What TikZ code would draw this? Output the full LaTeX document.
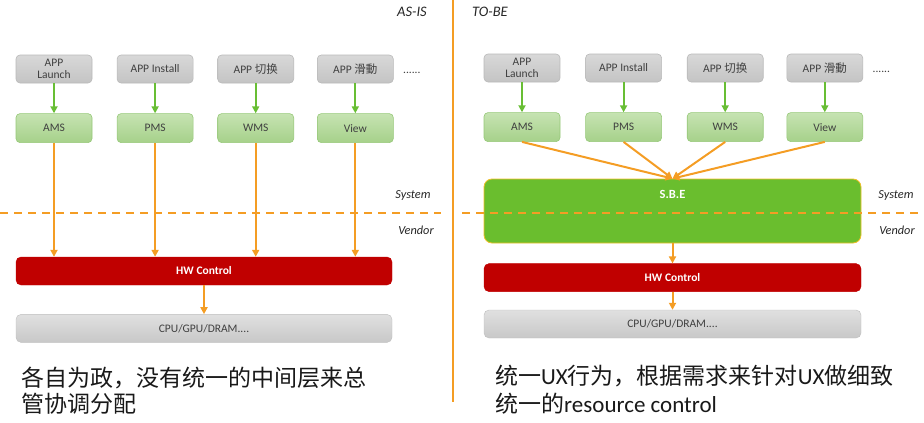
\documentclass[tikz,border=0pt]{standalone}
\usepackage{fontspec}
\setmainfont{Carlito}
\newfontfamily\cjk{Noto Sans CJK SC}
\usepackage{tikz}
\usetikzlibrary{arrows.meta}
\usetikzlibrary{positioning}

\definecolor{orangeline}{RGB}{244,157,36}
\definecolor{greenarrow}{RGB}{104,190,52}
\definecolor{hwred}{RGB}{192,0,0}
\definecolor{sbegreen}{RGB}{106,190,46}
\definecolor{sbeborder}{RGB}{240,190,40}
\definecolor{boxtext}{RGB}{64,64,64}

\begin{document}
\begin{tikzpicture}[x=1pt, y=-1pt,
  appbox/.style={draw={rgb,255:red,185;green,185;blue,185}, top color={rgb,255:red,216;green,216;blue,216}, bottom color={rgb,255:red,196;green,196;blue,196}, rounded corners=4pt, minimum width=76pt, minimum height=28pt, inner sep=1pt, align=center, text=boxtext, font=\fontsize{11.5}{12}\selectfont, line width=0.6pt},
  mgrbox/.style={appbox, draw={rgb,255:red,150;green,200;blue,120}, top color={rgb,255:red,198;green,227;blue,178}, bottom color={rgb,255:red,166;green,209;blue,138}, minimum height=29pt},
  hwbox/.style={draw=hwred, fill=hwred, rounded corners=5pt, minimum height=28pt, text=white, font=\fontsize{11.5}{12}\selectfont\bfseries},
  cpubox/.style={draw={rgb,255:red,190;green,190;blue,190}, top color={rgb,255:red,224;green,224;blue,224}, bottom color={rgb,255:red,200;green,200;blue,200}, rounded corners=5pt, minimum height=28pt, text=boxtext, font=\fontsize{11.5}{12}\selectfont},
  tag/.style={font=\fontsize{14.5}{15}\selectfont\itshape, text=black!85},
  layer/.style={font=\fontsize{12.3}{13}\selectfont\itshape, text=black!85},
  note/.style={anchor=base west, inner sep=0pt, font=\cjk\fontsize{23}{26}\selectfont, text=black!90},
  dots/.style={font=\fontsize{11.5}{12}\selectfont, text=boxtext},
  garrow/.style={-{Triangle[width=7pt,length=7pt]}, greenarrow, line width=2pt},
  oarrow/.style={-{Triangle[width=7pt,length=7pt]}, orangeline, line width=2pt},
  split/.style={orangeline, line width=2pt, dash pattern=on 8pt off 6pt}
]
\useasboundingbox (0,0) rectangle (924,423);

% Nodos AS-IS
\node [appbox] at (54,69) (n1) {APP\\Launch};
\node [appbox, right=24.5pt of n1] (n2) {APP Install};
\node [appbox, right=24pt of n2] (n3) {APP {\cjk 切换}};
\node [appbox, right=23pt of n3] (n4) {APP {\cjk 滑動}};
\node [dots, right=6pt of n4, yshift=-4pt] (n5) {......};

\node [mgrbox, below=30pt of n1] (n6) {AMS};
\node [mgrbox, below=30pt of n2] (n7) {PMS};
\node [mgrbox, below=30pt of n3] (n8) {WMS};
\node [mgrbox, below=30pt of n4] (n9) {View};

\node [hwbox, minimum width=376pt] at (204,271) (n10) {HW Control};
\node [cpubox, minimum width=376pt, below=29pt of n10] (n11) {CPU/GPU/DRAM....};

\node [tag] at (412,12) (n12) {AS-IS};
\node [layer] at (413,196) (n13) {System};
\node [layer] at (416,230) (n14) {Vendor};

\node [note] at (21,386) (n31) {各自为政，没有统一的中间层来总};
\node [note] at (21,412) (n32) {管协调分配};

% Nodos TO-BE
\node [appbox] at (522,68) (n15) {APP\\Launch};
\node [appbox, right=25pt of n15] (n16) {APP Install};
\node [appbox, right=25pt of n16] (n17) {APP {\cjk 切换}};
\node [appbox, right=23pt of n17] (n18) {APP {\cjk 滑動}};
\node [dots, right=6pt of n18, yshift=-4pt] (n19) {......};

\node [mgrbox, below=30pt of n15] (n20) {AMS};
\node [mgrbox, below=30pt of n16] (n21) {PMS};
\node [mgrbox, below=30pt of n17] (n22) {WMS};
\node [mgrbox, below=30pt of n18] (n23) {View};

\node [draw=sbeborder, fill=sbegreen, rounded corners=8pt, minimum width=377pt, minimum height=64pt, line width=0.8pt] at (672.5,211) (n24) {};
\node [text=white, font=\fontsize{12.5}{13}\selectfont\bfseries] at ([yshift=-16pt]n24.north) (n25) {S.B.E};
\node [hwbox, minimum width=377pt, below=20pt of n24] (n26) {HW Control};
\node [cpubox, minimum width=377pt, below=18pt of n26] (n27) {CPU/GPU/DRAM....};

\node [tag] at (490,12) (n28) {TO-BE};
\node [layer] at (896,196) (n29) {System};
\node [layer] at (897,230) (n30) {Vendor};

\node [note] at (495,384) (n33) {统一{\fontspec{Carlito}UX}行为，根据需求来针对{\fontspec{Carlito}UX}做细致};
\node [note] at (495,412) (n34) {统一的{\fontspec{Carlito}resource control}};

% Lineas
\coordinate (c1) at (453,0);
\coordinate (c2) at (453,402);
\coordinate (c3) at (0,213);
\coordinate (c4) at (441,213);
\coordinate (c5) at (462,213);
\coordinate (c6) at (924,213);

\draw[orangeline, line width=2.5pt] (c1) -- (c2);

% Conexiones AS-IS
\draw[garrow] (n1.south) -- (n6.north);
\draw[garrow] (n2.south) -- (n7.north);
\draw[garrow] (n3.south) -- (n8.north);
\draw[garrow] (n4.south) -- (n9.north);

\draw[oarrow] (n6.south) -- (n6.south |- n10.north);
\draw[oarrow] (n7.south) -- (n7.south |- n10.north);
\draw[oarrow] (n8.south) -- (n8.south |- n10.north);
\draw[oarrow] (n9.south) -- (n9.south |- n10.north);
\draw[oarrow] (n10.south) -- (n11.north);

% Conexiones TO-BE
\draw[garrow] (n15.south) -- (n20.north);
\draw[garrow] (n16.south) -- (n21.north);
\draw[garrow] (n17.south) -- (n22.north);
\draw[garrow] (n18.south) -- (n23.north);

\draw[oarrow] (n20.south) -- (n24.north);
\draw[oarrow] (n21.south) -- (n24.north);
\draw[oarrow] (n22.south) -- (n24.north);
\draw[oarrow] (n23.south) -- (n24.north);
\draw[oarrow] (n24.south) -- (n26.north);
\draw[oarrow] (n26.south) -- (n27.north);

\draw[split] (c3) -- (c4);
\draw[split] (c5) -- (c6);

\end{tikzpicture}
\end{document}
